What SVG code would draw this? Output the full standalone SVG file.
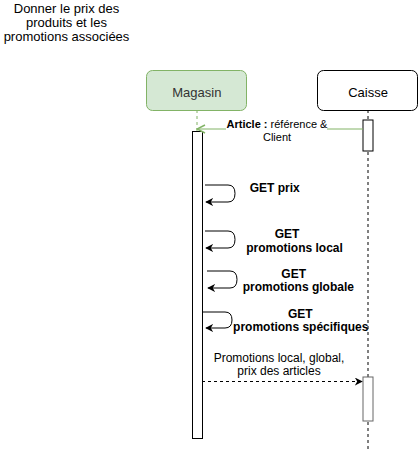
<svg xmlns="http://www.w3.org/2000/svg" width="418" height="449" viewBox="0 0 418 449">
<defs>
<style>
text{font-family:"Liberation Sans",Arial,sans-serif;fill:#000}
.t13{font-size:13px}
.t12{font-size:12px}
.t11{font-size:11px}
.b{font-weight:bold}
.life{stroke:#000;stroke-dasharray:3 3;fill:none}
.act{fill:#fff;stroke:#000;stroke-width:1}
.loop{fill:none;stroke:#000;stroke-width:1}
</style>
<marker id="arr" viewBox="0 0 10 10" refX="9" refY="5" markerWidth="8" markerHeight="8" markerUnits="userSpaceOnUse" orient="auto">
<path d="M0,0 L10,5 L0,10 L3,5 Z" fill="#000"/>
</marker>
<marker id="open" viewBox="0 0 10 10" refX="9" refY="5" markerWidth="10" markerHeight="10" markerUnits="userSpaceOnUse" orient="auto">
<path d="M1,1 L9,5 L1,9" fill="none" stroke="#82b366" stroke-width="1.5"/>
</marker>
</defs>
<rect width="418" height="449" fill="#fff"/>
<g id="title">
<text class="t13" x="66.5" y="13" text-anchor="middle">Donner le prix des</text>
<text class="t13" x="66.5" y="27" text-anchor="middle">produits et les</text>
<text class="t13" x="66.5" y="41" text-anchor="middle">promotions associées</text>
</g>
<g id="magasin">
<line x1="197" y1="110" x2="197" y2="131" stroke="#82b366" stroke-dasharray="3 3"/>
<rect x="146.5" y="70.5" width="100" height="40" rx="6" fill="#d5e8d4" stroke="#82b366"/>
<text class="t13" x="196.8" y="97" text-anchor="middle" style="fill:#333">Magasin</text>
<rect class="act" x="192.5" y="131.5" width="10" height="307"/>
</g>
<g id="caisse">
<line class="life" x1="368" y1="110" x2="368" y2="449"/>
<rect x="317.5" y="70.5" width="100" height="40" rx="6" fill="#fff" stroke="#000"/>
<text class="t13" x="368" y="97" text-anchor="middle">Caisse</text>
<rect class="act" x="363" y="120" width="10" height="31"/>
<rect x="363" y="377" width="10" height="44" fill="#fff" stroke="#666"/>
</g>
<g id="connectors">
<line x1="363" y1="129" x2="197" y2="129" stroke="#82b366" marker-end="url(#open)"/>
<rect x="226" y="119" width="101" height="24" fill="#fff"/>
<text class="t11" x="277" y="128" text-anchor="middle"><tspan font-weight="bold">Article :</tspan> référence &amp;</text>
<text class="t11" x="277" y="141" text-anchor="middle">Client</text>
<path class="loop" d="M205,185 H228 Q235,185 235,193.5 Q235,202 228,202 H206" marker-end="url(#arr)"/>
<text class="t12 b" x="274.7" y="192" text-anchor="middle">GET prix</text>
<path class="loop" d="M205,231 H228 Q235,231 235,239.5 Q235,248 228,248 H206" marker-end="url(#arr)"/>
<text class="t12 b" x="287" y="238" text-anchor="middle">GET</text>
<text class="t12 b" x="294.5" y="252" text-anchor="middle">promotions local</text>
<path class="loop" d="M207,271 H230 Q237,271 237,279.5 Q237,288 230,288 H208" marker-end="url(#arr)"/>
<text class="t12 b" x="293.7" y="277.5" text-anchor="middle">GET</text>
<text class="t12 b" x="298.3" y="291" text-anchor="middle">promotions globale</text>
<path class="loop" d="M202,312 H225 Q232,312 232,320 Q232,328 225,328 H206" marker-end="url(#arr)"/>
<text class="t12 b" x="300.3" y="317.5" text-anchor="middle">GET</text>
<text class="t12 b" x="300.8" y="331" text-anchor="middle">promotions spécifiques</text>
<line x1="202" y1="381.5" x2="362" y2="381.5" stroke="#000" stroke-dasharray="3 3" marker-end="url(#arr)"/>
<text class="t12" x="279" y="362" text-anchor="middle">Promotions local, global,</text>
<text class="t12" x="279" y="375" text-anchor="middle">prix des articles</text>
</g>
</svg>
